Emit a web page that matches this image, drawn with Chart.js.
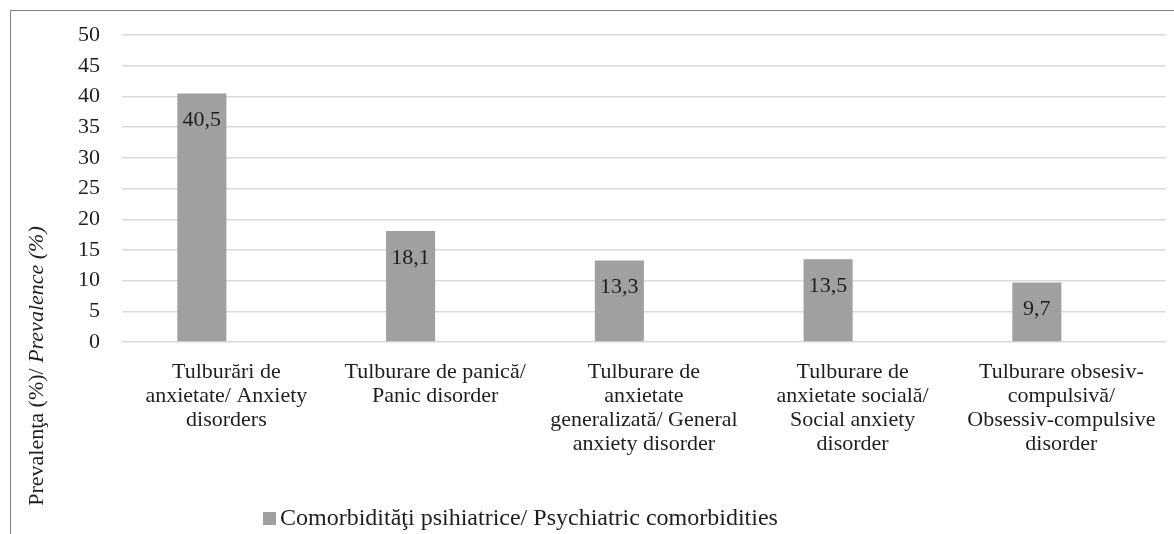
<!DOCTYPE html>
<html>
<head>
<meta charset="utf-8">
<script src="https://cdn.jsdelivr.net/npm/chart.js@4.4.1/dist/chart.umd.min.js"></script>
<style>
  html, body { margin: 0; padding: 0; background: #fff; }
  #wrap { width: 1174px; height: 534px; }
</style>
</head>
<body>
<div id="wrap"><canvas id="chart" width="1174" height="534"></canvas></div>
<script>
// categories (multi-line labels as drawn under the axis)
const categories = [
    ['Tulburări de', 'anxietate/ Anxiety', 'disorders'],
    ['Tulburare de panică/', 'Panic disorder'],
    ['Tulburare de', 'anxietate', 'generalizată/ General', 'anxiety disorder'],
    ['Tulburare de', 'anxietate socială/', 'Social anxiety', 'disorder'],
    ['Tulburare obsesiv-', 'compulsivă/', 'Obsessiv-compulsive', 'disorder']
];
const seriesLabel = 'Comorbidităţi psihiatrice/ Psychiatric comorbidities';
const values = [40.5, 18.1, 13.3, 13.5, 9.7];
const emptySeries = [null, null, null, null, null]; // second (empty) series in the original
const yMin = 0;
const yMax = 50;
const yStep = 5;
const yTitleNormal = 'Prevalenţa (%)/ ';
const yTitleItalic = 'Prevalence (%)';

const FONT = "'Liberation Serif', 'Times New Roman', serif";
const TEXT = '#1e1e1e';
const BAR = '#a0a0a0';

// border, axis title, value labels and legend drawn by hand
const extras = {
    id: 'extras',
    beforeDraw(chart) {
        const c = chart.ctx;
        c.save();
        c.strokeStyle = '#808080';
        c.lineWidth = 1;
        c.strokeRect(10.5, 10.5, 1400, 800);
        c.restore();
    },
    afterDatasetsDraw(chart) {
        const c = chart.ctx;
        const meta = chart.getDatasetMeta(0);
        c.save();
        c.font = '22px ' + FONT;
        c.fillStyle = TEXT;
        c.textAlign = 'center';
        c.textBaseline = 'middle';
        meta.data.forEach((bar, i) => {
            const txt = values[i].toFixed(1).replace('.', ',');
            c.fillText(txt, bar.x, bar.y + 27);
        });
        c.restore();
    },
    afterDraw(chart) {
        const c = chart.ctx;
        // rotated y axis title, half upright half italic
        c.save();
        c.fillStyle = TEXT;
        c.textBaseline = 'middle';
        c.font = '22px ' + FONT;
        const w1 = c.measureText(yTitleNormal).width;
        c.font = 'italic 22px ' + FONT;
        const w2 = c.measureText(yTitleItalic).width;
        c.translate(37, 366);
        c.rotate(-Math.PI / 2);
        const start = -(w1 + w2) / 2;
        c.textAlign = 'left';
        c.font = '22px ' + FONT;
        c.fillText(yTitleNormal, start, 0);
        c.font = 'italic 22px ' + FONT;
        c.fillText(yTitleItalic, start + w1, 0);
        c.restore();

        // legend
        const ds = chart.data.datasets[0];
        c.save();
        c.fillStyle = ds.backgroundColor;
        c.fillRect(263, 512, 13, 13);
        c.fillStyle = TEXT;
        c.font = '24px ' + FONT;
        c.textAlign = 'left';
        c.textBaseline = 'middle';
        c.fillText(ds.label, 280, 519);
        c.restore();
    }
};

new Chart(document.getElementById('chart').getContext('2d'), {
    type: 'bar',
    data: {
        labels: categories,
        datasets: [
            { label: seriesLabel, data: values, backgroundColor: BAR },
            { label: '', data: emptySeries, backgroundColor: BAR }
        ]
    },
    options: {
        responsive: false,
        animation: false,
        layout: { padding: { top: 35, right: 5, bottom: 0, left: 0 } },
        datasets: { bar: { categoryPercentage: 0.47, barPercentage: 1 } },
        plugins: {
            legend: { display: false },
            tooltip: { enabled: false }
        },
        scales: {
            x: {
                grid: { display: false, drawTicks: false },
                border: { display: false },
                ticks: {
                    padding: 18,
                    color: TEXT,
                    maxRotation: 0,
                    autoSkip: false,
                    font: { family: FONT, size: 22, lineHeight: 24 / 22 }
                },
                afterFit(scale) { scale.height = 192; }
            },
            y: {
                min: yMin,
                max: yMax,
                grid: { color: '#d9d9d9', lineWidth: 1.5, drawTicks: false },
                border: { display: false },
                ticks: {
                    stepSize: yStep,
                    padding: 22,
                    color: TEXT,
                    font: { family: FONT, size: 22 }
                },
                afterFit(scale) { scale.width = 122; }
            }
        }
    },
    plugins: [extras]
});
</script>
</body>
</html>
